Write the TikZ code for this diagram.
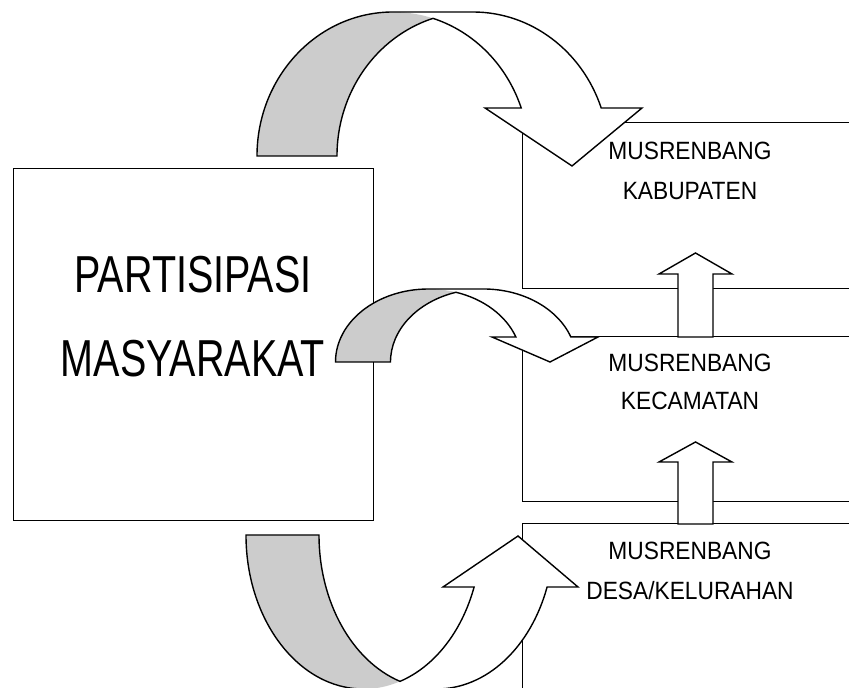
\documentclass[tikz,border=0pt]{standalone}
\usepackage{fontspec}
\setmainfont{Liberation Sans}
\newfontfamily\bigfont{Liberation Sans}[FakeStretch=0.76]
\newfontfamily\smallfont{Liberation Sans}[FakeStretch=0.91]
\usetikzlibrary{calc}
\begin{document}
\begin{tikzpicture}[x=1pt,y=1pt,
  ln/.style={line width=1.4pt, line join=miter},
  boxnode/.style={draw, ln, rectangle, inner sep=0pt, anchor=south west},
  bandgray/.style={fill=black!20},
  bandwhite/.style={fill=white},
  outline/.style={ln, draw},
  uparrow/.style={ln, draw, fill=white},
  bigtxt/.style={font=\bigfont\fontsize{52}{60}\selectfont, anchor=base, inner sep=0pt},
  smalltxt/.style={font=\smallfont\fontsize{25}{30}\selectfont, anchor=base, inner sep=0pt}]
\useasboundingbox (0,0) rectangle (849,688);
\clip (0,0) rectangle (849,688);

% boxes
\node[boxnode, minimum width=360pt, minimum height=352pt] (pm) at (13,166.5) {};
\node[boxnode, minimum width=348pt, minimum height=166pt] (kab) at (522,399) {};
\node[boxnode, minimum width=348pt, minimum height=165pt] (kec) at (522,186) {};
\node[boxnode, minimum width=348pt, minimum height=184pt] (des) at (522,-20) {};

% straight up arrows
\draw[uparrow] (678,351) -- (678,414) -- (659,414) -- (695.5,435) -- (732,414) -- (713,414) -- (713,351) -- cycle;
\draw[uparrow] (678,164) -- (678,226) -- (659,226) -- (695.5,246) -- (732,226) -- (713,226) -- (713,164) -- cycle;

% ---------- top curved arrow ----------
\coordinate (Lc1) at (393,532);
\coordinate (Rc1) at (473,532);
\coordinate (X1) at ($(Lc1)+(72.90:136pt and 144pt)$);
\coordinate (Ri1) at ($(Lc1)+(19.47:136pt and 144pt)$);
\coordinate (Ro1) at ($(Rc1)+(19.47:136pt and 144pt)$);
\fill[bandwhite] (X1) arc[start angle=72.90,end angle=19.47,x radius=136pt,y radius=144pt]
   -- (485,580) -- (572,522) -- (642,580) -- (Ro1)
   arc[start angle=19.47,end angle=90,x radius=136pt,y radius=144pt] -- (393,676) -- cycle;
\fill[bandgray] (257,532) arc[start angle=180,end angle=72.90,x radius=136pt,y radius=144pt]
   arc[start angle=107.10,end angle=180,x radius=136pt,y radius=144pt] -- cycle;
\draw[outline] (257,532) arc[start angle=180,end angle=90,x radius=136pt,y radius=144pt]
   -- (473,676) arc[start angle=90,end angle=19.47,x radius=136pt,y radius=144pt]
   -- (642,580) -- (572,522) -- (485,580) -- (Ri1)
   arc[start angle=19.47,end angle=72.90,x radius=136pt,y radius=144pt]
   arc[start angle=107.10,end angle=180,x radius=136pt,y radius=144pt] -- cycle;

% ---------- middle curved arrow ----------
\coordinate (Lc2) at (428.5,326);
\coordinate (Rc2) at (483.5,326);
\coordinate (X2) at ($(Lc2)+(72.80:93pt and 73pt)$);
\coordinate (Ri2) at ($(Lc2)+(20.03:93pt and 73pt)$);
\coordinate (Ro2) at ($(Rc2)+(20.03:93pt and 73pt)$);
\fill[bandwhite] (X2) arc[start angle=72.80,end angle=20.03,x radius=93pt,y radius=73pt]
   -- (492,351) -- (550,326) -- (598,351) -- (Ro2)
   arc[start angle=20.03,end angle=90,x radius=93pt,y radius=73pt] -- (428.5,399) -- cycle;
\fill[bandgray] (335.5,326) arc[start angle=180,end angle=72.80,x radius=93pt,y radius=73pt]
   arc[start angle=107.20,end angle=180,x radius=93pt,y radius=73pt] -- cycle;
\draw[outline] (335.5,326) arc[start angle=180,end angle=90,x radius=93pt,y radius=73pt]
   -- (483.5,399) arc[start angle=90,end angle=20.03,x radius=93pt,y radius=73pt]
   -- (598,351) -- (550,326) -- (492,351) -- (Ri2)
   arc[start angle=20.03,end angle=72.80,x radius=93pt,y radius=73pt]
   arc[start angle=107.20,end angle=180,x radius=93pt,y radius=73pt] -- cycle;

% ---------- bottom curved arrow ----------
\coordinate (Lc3) at (363.5,153);
\coordinate (Rc3) at (436.5,153);
\coordinate (X3) at ($(Lc3)+(288.10:117.5pt and 154pt)$);
\coordinate (Ri3) at ($(Lc3)+(340.27:117.5pt and 154pt)$);
\coordinate (Ro3) at ($(Rc3)+(340.27:117.5pt and 154pt)$);
\fill[bandwhite] (X3) arc[start angle=288.10,end angle=340.27,x radius=117.5pt,y radius=154pt]
   -- (443,101) -- (518,152) -- (578,101) -- (Ro3)
   arc[start angle=340.27,end angle=270,x radius=117.5pt,y radius=154pt] -- (363.5,-1) -- cycle;
\fill[bandgray] (246,153) arc[start angle=180,end angle=288.10,x radius=117.5pt,y radius=154pt]
   arc[start angle=251.90,end angle=180,x radius=117.5pt,y radius=154pt] -- cycle;
\draw[outline] (246,153) arc[start angle=180,end angle=270,x radius=117.5pt,y radius=154pt]
   -- (436.5,-1) arc[start angle=270,end angle=340.27,x radius=117.5pt,y radius=154pt]
   -- (578,101) -- (518,152) -- (443,101) -- (Ri3)
   arc[start angle=340.27,end angle=288.10,x radius=117.5pt,y radius=154pt]
   arc[start angle=251.90,end angle=180,x radius=117.5pt,y radius=154pt] -- cycle;

% texts
\node[bigtxt] (p1) at (193,395) {PARTISIPASI};
\node[bigtxt] (p2) at (193,311) {MASYARAKAT};
\node[smalltxt] (k1) at (690,528) {MUSRENBANG};
\node[smalltxt] (k2) at (690,488) {KABUPATEN};
\node[smalltxt] (c1) at (690,316) {MUSRENBANG};
\node[smalltxt] (c2) at (690,278) {KECAMATAN};
\node[smalltxt] (d1) at (690,128) {MUSRENBANG};
\node[smalltxt] (d2) at (690,88) {DESA/KELURAHAN};
\end{tikzpicture}
\end{document}
